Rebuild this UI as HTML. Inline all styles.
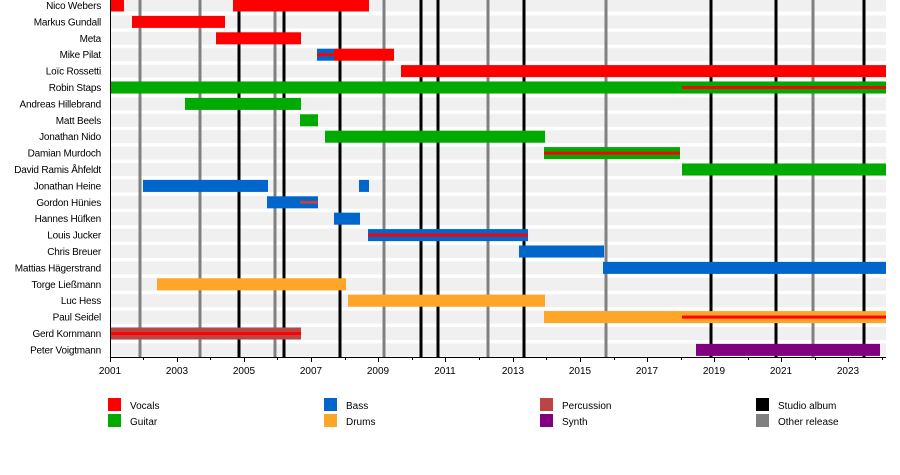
<!DOCTYPE html>
<html><head><meta charset="utf-8"><style>
body{margin:0;background:#fff}
svg{display:block}
text{font-family:"Liberation Sans",Arial,sans-serif;font-size:10px;fill:#000}
.n{letter-spacing:-0.2px}
</style></head><body>
<svg width="900" height="475" viewBox="0 0 900 475" xmlns="http://www.w3.org/2000/svg">
<g fill="#f0f0f0">
<rect x="110" y="0" width="776" height="11.5"/>
<rect x="110" y="15.4" width="776" height="13"/>
<rect x="110" y="31.8" width="776" height="13"/>
<rect x="110" y="48.2" width="776" height="13"/>
<rect x="110" y="64.6" width="776" height="13"/>
<rect x="110" y="81" width="776" height="13"/>
<rect x="110" y="97.4" width="776" height="13"/>
<rect x="110" y="113.8" width="776" height="13"/>
<rect x="110" y="130.2" width="776" height="13"/>
<rect x="110" y="146.6" width="776" height="13"/>
<rect x="110" y="163" width="776" height="13"/>
<rect x="110" y="179.4" width="776" height="13"/>
<rect x="110" y="195.8" width="776" height="13"/>
<rect x="110" y="212.2" width="776" height="13"/>
<rect x="110" y="228.6" width="776" height="13"/>
<rect x="110" y="245" width="776" height="13"/>
<rect x="110" y="261.4" width="776" height="13"/>
<rect x="110" y="277.8" width="776" height="13"/>
<rect x="110" y="294.2" width="776" height="13"/>
<rect x="110" y="310.6" width="776" height="13"/>
<rect x="110" y="327" width="776" height="13"/>
<rect x="110" y="343.4" width="776" height="13"/>
</g>
<g stroke="#808080" stroke-width="3">
<line x1="140" y1="0" x2="140" y2="357"/><line x1="200" y1="0" x2="200" y2="357"/>
<line x1="275" y1="0" x2="275" y2="357"/><line x1="384" y1="0" x2="384" y2="357"/>
<line x1="488" y1="0" x2="488" y2="357"/><line x1="606" y1="0" x2="606" y2="357"/>
<line x1="813" y1="0" x2="813" y2="357"/>
</g>
<g stroke="#000" stroke-width="3">
<line x1="239" y1="0" x2="239" y2="357"/><line x1="284" y1="0" x2="284" y2="357"/>
<line x1="340" y1="0" x2="340" y2="357"/><line x1="421" y1="0" x2="421" y2="357"/>
<line x1="438" y1="0" x2="438" y2="357"/><line x1="524" y1="0" x2="524" y2="357"/>
<line x1="711" y1="0" x2="711" y2="357"/><line x1="776" y1="0" x2="776" y2="357"/>
<line x1="864" y1="0" x2="864" y2="357"/>
</g>
<g fill="#ff0000">
<rect x="110" y="-0.5" width="14" height="12"/><rect x="233" y="-0.5" width="136" height="12"/>
<rect x="132" y="15.9" width="93" height="12"/>
<rect x="216" y="32.3" width="85" height="12"/>
<rect x="334" y="48.7" width="60" height="12"/>
<rect x="401" y="65.1" width="485" height="12"/>
</g>
<rect x="317" y="48.7" width="17" height="12" fill="#0066cc"/><rect x="317" y="53.2" width="17" height="3" fill="#ff0000"/>
<g fill="#00aa00">
<rect x="110" y="81.5" width="776" height="12"/>
<rect x="185" y="97.9" width="116" height="12"/>
<rect x="300" y="114.3" width="18" height="12"/>
<rect x="325" y="130.7" width="220" height="12"/>
<rect x="544" y="147.1" width="136" height="12"/>
<rect x="682" y="163.5" width="204" height="12"/>
</g>
<g fill="#0066cc">
<rect x="143" y="179.9" width="125" height="12"/><rect x="359" y="179.9" width="10" height="12"/>
<rect x="267" y="196.3" width="51" height="12"/>
<rect x="334" y="212.7" width="26" height="12"/>
<rect x="368" y="229.1" width="160" height="12"/>
<rect x="519" y="245.5" width="85" height="12"/>
<rect x="603" y="261.9" width="283" height="12"/>
</g>
<g fill="#ffa527">
<rect x="157" y="278.3" width="189" height="12"/>
<rect x="348" y="294.7" width="197" height="12"/>
<rect x="544" y="311.1" width="342" height="12"/>
</g>
<rect x="110" y="327.5" width="191" height="12" fill="#bb4444"/>
<rect x="696" y="343.9" width="184" height="12" fill="#800080"/>
<g fill="#ff0000">
<rect x="682" y="86" width="204" height="3"/>
<rect x="544" y="151.6" width="136" height="3"/>
<rect x="368" y="233.6" width="160" height="3"/>
<rect x="682" y="315.6" width="204" height="3"/>
<rect x="110" y="332" width="191" height="3"/>
</g>
<rect x="300" y="200.8" width="18" height="3" fill="#bb4444"/>
<g stroke="#000" stroke-width="1">
<line x1="110.5" y1="0" x2="110.5" y2="357"/>
<line x1="110" y1="357.5" x2="886" y2="357.5"/>
<path d="M110.5 357v5M177.5 357v5M244.5 357v5M311.5 357v5M378.5 357v5M445.5 357v5M513.5 357v5M580.5 357v5M647.5 357v5M714.5 357v5M781.5 357v5M848.5 357v5
M143.5 357v3M210.5 357v3M277.5 357v3M345.5 357v3M412.5 357v3M479.5 357v3M546.5 357v3M614.5 357v3M681.5 357v3M748.5 357v3M815.5 357v3M882.5 357v3"/>
</g>
<g text-anchor="middle">
<text x="110" y="374">2001</text><text x="177" y="374">2003</text><text x="244" y="374">2005</text>
<text x="311" y="374">2007</text><text x="378" y="374">2009</text><text x="445" y="374">2011</text>
<text x="513" y="374">2013</text><text x="580" y="374">2015</text><text x="647" y="374">2017</text>
<text x="714" y="374">2019</text><text x="781" y="374">2021</text><text x="848" y="374">2023</text>
</g>
<g text-anchor="end" class="n">
<text x="101" y="9">Nico Webers</text>
<text x="101" y="25.4">Markus Gundall</text>
<text x="101" y="41.8">Meta</text>
<text x="101" y="58.2">Mike Pilat</text>
<text x="101" y="74.6">Loïc Rossetti</text>
<text x="101" y="91">Robin Staps</text>
<text x="101" y="107.4">Andreas Hillebrand</text>
<text x="101" y="123.8">Matt Beels</text>
<text x="101" y="140.2">Jonathan Nido</text>
<text x="101" y="156.6">Damian Murdoch</text>
<text x="101" y="173">David Ramis Åhfeldt</text>
<text x="101" y="189.4">Jonathan Heine</text>
<text x="101" y="205.8">Gordon Hünies</text>
<text x="101" y="222.2">Hannes Hüfken</text>
<text x="101" y="238.6">Louis Jucker</text>
<text x="101" y="255">Chris Breuer</text>
<text x="101" y="271.4">Mattias Hägerstrand</text>
<text x="101" y="287.8">Torge Ließmann</text>
<text x="101" y="304.2">Luc Hess</text>
<text x="101" y="320.6">Paul Seidel</text>
<text x="101" y="337">Gerd Kornmann</text>
<text x="101" y="353.4">Peter Voigtmann</text>
</g>
<rect x="108" y="398" width="13" height="13" fill="#ff0000"/><text x="130" y="409">Vocals</text>
<rect x="108" y="414" width="13" height="13" fill="#00aa00"/><text x="130" y="425">Guitar</text>
<rect x="324" y="398" width="13" height="13" fill="#0066cc"/><text x="346" y="409">Bass</text>
<rect x="324" y="414" width="13" height="13" fill="#ffa527"/><text x="346" y="425">Drums</text>
<rect x="540" y="398" width="13" height="13" fill="#bb4444"/><text x="562" y="409">Percussion</text>
<rect x="540" y="414" width="13" height="13" fill="#800080"/><text x="562" y="425">Synth</text>
<rect x="756" y="398" width="13" height="13" fill="#000"/><text x="778" y="409">Studio album</text>
<rect x="756" y="414" width="13" height="13" fill="#808080"/><text x="778" y="425">Other release</text>
</svg>
</body></html>
